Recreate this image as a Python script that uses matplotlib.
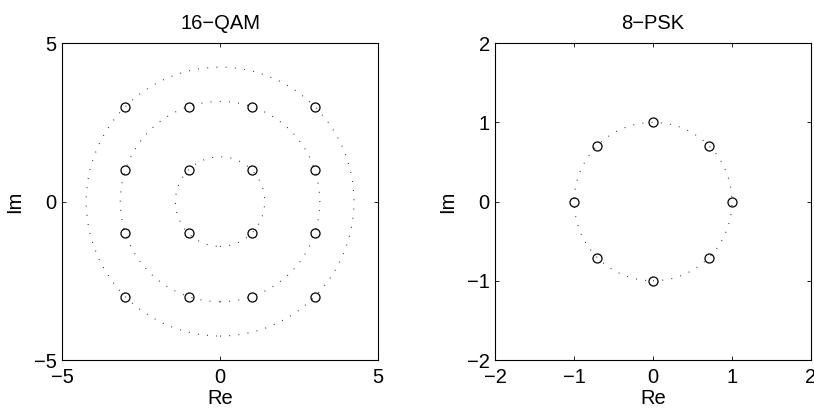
import matplotlib
matplotlib.use("Agg")
import matplotlib.pyplot as plt
from matplotlib.patches import Circle

plt.rcParams['font.family'] = ['Liberation Sans', 'DejaVu Sans']

# 16-QAM constellation
qam_re = [-3, -3, -3, -3, -1, -1, -1, -1, 1, 1, 1, 1, 3, 3, 3, 3]
qam_im = [-3, -1, 1, 3, -3, -1, 1, 3, -3, -1, 1, 3, -3, -1, 1, 3]
qam_radii = [1.4142, 3.1623, 4.2426]
qam_ticks = [-5, 0, 5]

# 8-PSK constellation
psk_re = [1.0, 0.7071, 0.0, -0.7071, -1.0, -0.7071, 0.0, 0.7071]
psk_im = [0.0, 0.7071, 1.0, 0.7071, 0.0, -0.7071, -1.0, -0.7071]
psk_radii = [1.0]
psk_ticks = [-2, -1, 0, 1, 2]

FS = 14.5

fig = plt.figure(figsize=(8.14, 4.11), dpi=100)
ax1 = fig.add_axes([0.0765, 0.124, 0.3877, 0.771])
ax2 = fig.add_axes([0.6085, 0.124, 0.3877, 0.771])


def draw(ax, re, im, radii, ticks, title):
    for r in radii:
        ax.add_patch(Circle((0, 0), r, fill=False, edgecolor='#222222',
                            linewidth=0.8, linestyle=(0, (0.8, 7.5))))
    ax.plot(re, im, linestyle='none', marker='o', markersize=6.5,
            markerfacecolor='none', markeredgecolor='black',
            markeredgewidth=0.9)
    ax.set_xlim(ticks[0], ticks[-1])
    ax.set_ylim(ticks[0], ticks[-1])
    ax.set_xticks(ticks)
    ax.set_yticks(ticks)
    ax.tick_params(direction='in', top=True, right=True, length=3,
                   width=0.6, labelsize=FS)
    ax.tick_params(axis='x', pad=6)
    ax.tick_params(axis='y', pad=4)
    for s in ax.spines.values():
        s.set_linewidth(0.8)
    ax.set_xlabel('Re', fontsize=FS, labelpad=1)
    ax.set_ylabel('Im', fontsize=FS, labelpad=7)
    ax.set_title(title, fontsize=FS, pad=10)


draw(ax1, qam_re, qam_im, qam_radii, qam_ticks, '16\u2212QAM')
draw(ax2, psk_re, psk_im, psk_radii, psk_ticks, '8\u2212PSK')

fig.savefig('out.png', dpi=100)
